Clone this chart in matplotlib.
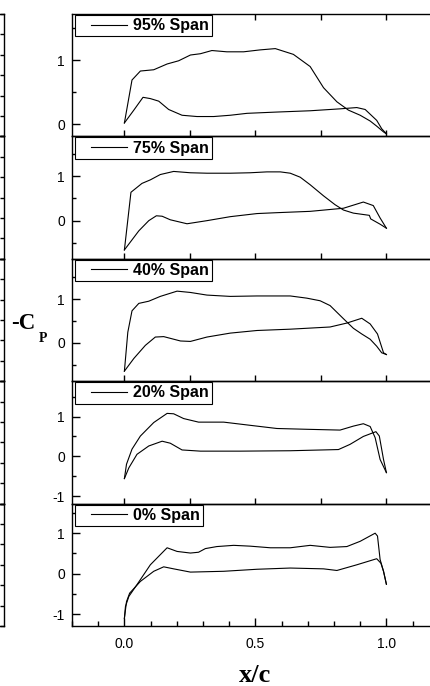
import numpy as np
import matplotlib
matplotlib.use("Agg")
import matplotlib.pyplot as plt
from matplotlib.ticker import MultipleLocator, FormatStrFormatter, FixedLocator
from matplotlib.legend_handler import HandlerBase
from matplotlib.lines import Line2D

plt.rcParams['font.family'] = ['Liberation Sans', 'DejaVu Sans']
plt.rcParams['axes.unicode_minus'] = False

# ---------------- data (x/c, -Cp) ----------------
labels = ["95% Span", "75% Span", "40% Span", "20% Span", "0% Span"]

x95_up = [0, 0.029, 0.061, 0.112, 0.163, 0.207, 0.252, 0.29, 0.334, 0.391, 0.455, 0.518, 0.576, 0.645, 0.709, 0.76, 0.811, 0.855, 0.9, 0.938, 0.963, 0.989, 1.0]
cp95_up = [0.02, 0.69, 0.83, 0.85, 0.94, 0.99, 1.08, 1.10, 1.15, 1.13, 1.13, 1.16, 1.18, 1.09, 0.90, 0.57, 0.35, 0.22, 0.14, 0.05, -0.03, -0.12, -0.15]
x95_lo = [0, 0.036, 0.071, 0.099, 0.131, 0.169, 0.22, 0.277, 0.341, 0.404, 0.468, 0.582, 0.709, 0.823, 0.887, 0.919, 0.963, 0.982, 1.0]
cp95_lo = [0.02, 0.22, 0.42, 0.40, 0.36, 0.23, 0.14, 0.12, 0.12, 0.14, 0.17, 0.19, 0.21, 0.24, 0.26, 0.23, 0.06, -0.07, -0.15]

x75_up = [0, 0.025, 0.067, 0.099, 0.137, 0.188, 0.252, 0.315, 0.404, 0.48, 0.544, 0.595, 0.633, 0.671, 0.709, 0.76, 0.804, 0.836, 0.874, 0.935, 0.94, 0.976, 1.0]
cp75_up = [-0.66, 0.64, 0.84, 0.92, 1.04, 1.11, 1.08, 1.07, 1.07, 1.08, 1.10, 1.10, 1.07, 0.98, 0.81, 0.56, 0.36, 0.24, 0.17, 0.12, 0.04, -0.08, -0.17]
x75_lo = [0, 0.055, 0.093, 0.122, 0.144, 0.175, 0.239, 0.315, 0.404, 0.506, 0.582, 0.709, 0.836, 0.912, 0.95, 0.976, 1.0]
cp75_lo = [-0.66, -0.23, 0.0, 0.11, 0.10, 0.02, -0.07, 0.0, 0.09, 0.16, 0.18, 0.21, 0.28, 0.42, 0.34, 0.06, -0.17]

x40_up = [0, 0.013, 0.029, 0.055, 0.093, 0.137, 0.201, 0.252, 0.315, 0.404, 0.506, 0.633, 0.696, 0.747, 0.785, 0.836, 0.874, 0.906, 0.938, 0.963, 0.982, 1.0]
cp40_up = [-0.65, 0.24, 0.73, 0.90, 0.95, 1.06, 1.18, 1.15, 1.09, 1.06, 1.07, 1.07, 1.02, 0.96, 0.85, 0.55, 0.33, 0.20, 0.08, -0.08, -0.23, -0.27]
x40_lo = [0, 0.036, 0.08, 0.118, 0.15, 0.214, 0.252, 0.315, 0.404, 0.506, 0.633, 0.785, 0.849, 0.906, 0.938, 0.966, 0.989, 1.0]
cp40_lo = [-0.65, -0.36, -0.06, 0.13, 0.14, 0.04, 0.03, 0.13, 0.22, 0.28, 0.31, 0.36, 0.45, 0.56, 0.43, 0.20, -0.23, -0.27]

x20_up = [0, 0.008, 0.029, 0.061, 0.112, 0.163, 0.188, 0.226, 0.283, 0.379, 0.48, 0.582, 0.696, 0.823, 0.874, 0.912, 0.938, 0.957, 0.976, 1.0]
cp20_up = [-0.56, -0.20, 0.18, 0.51, 0.85, 1.08, 1.07, 0.95, 0.86, 0.86, 0.78, 0.70, 0.68, 0.66, 0.76, 0.82, 0.75, 0.47, -0.08, -0.41]
x20_lo = [0, 0.017, 0.048, 0.093, 0.144, 0.175, 0.22, 0.29, 0.442, 0.633, 0.817, 0.861, 0.912, 0.96, 0.973, 0.989, 1.0]
cp20_lo = [-0.56, -0.29, 0.05, 0.26, 0.38, 0.33, 0.16, 0.13, 0.13, 0.14, 0.17, 0.30, 0.50, 0.62, 0.51, -0.08, -0.41]

x0_up = [0, 0.004, 0.017, 0.048, 0.099, 0.163, 0.201, 0.252, 0.283, 0.309, 0.353, 0.417, 0.48, 0.557, 0.633, 0.709, 0.785, 0.849, 0.9, 0.957, 0.966, 0.976, 0.989, 1.0]
cp0_up = [-1.10, -0.81, -0.56, -0.27, 0.22, 0.64, 0.55, 0.51, 0.53, 0.62, 0.67, 0.70, 0.68, 0.64, 0.64, 0.70, 0.65, 0.67, 0.80, 1.00, 0.93, 0.35, 0.06, -0.26]
x0_lo = [0, 0.008, 0.02, 0.061, 0.112, 0.15, 0.188, 0.252, 0.379, 0.506, 0.633, 0.76, 0.811, 0.887, 0.963, 0.979, 0.989, 1.0]
cp0_lo = [-1.10, -0.69, -0.48, -0.19, 0.06, 0.17, 0.12, 0.04, 0.06, 0.11, 0.14, 0.12, 0.08, 0.22, 0.37, 0.26, 0.06, -0.26]

curves = [
    (x95_up, cp95_up, x95_lo, cp95_lo),
    (x75_up, cp75_up, x75_lo, cp75_lo),
    (x40_up, cp40_up, x40_lo, cp40_lo),
    (x20_up, cp20_up, x20_lo, cp20_lo),
    (x0_up, cp0_up, x0_lo, cp0_lo),
]
ylims = [(-0.19, 1.72), (-0.86, 1.90), (-0.88, 1.92), (-1.19, 1.89), (-1.29, 1.73)]
xtick_labels = ["0.0", "0.5", "1.0"]

# ---------------- layout ----------------
W, H = 430, 686
fig = plt.figure(figsize=(W / 100, H / 100), dpi=100)

left_px, right_px = 72, 438.8
top_px, panel_h = 14, 122.4


class ShortLine(HandlerBase):
    def create_artists(self, legend, orig_handle, xdescent, ydescent,
                       width, height, fontsize, trans):
        y = height / 2 - ydescent
        ln = Line2D([width * 0.235 - xdescent, width * 0.897 - xdescent], [y, y],
                    color='black', lw=0.8)
        ln.set_transform(trans)
        return [ln]


axes = []
for i in range(5):
    t = top_px + i * panel_h
    b = t + panel_h
    ax = fig.add_axes([left_px / W, (H - b) / H, (right_px - left_px) / W, panel_h / H])
    axes.append(ax)
    xu, yu, xl, yl = curves[i]
    h, = ax.plot(xu, yu, color='black', lw=0.8)
    ax.plot(xl, yl, color='black', lw=0.8)
    ax.set_xlim(-0.2, 1.2)
    ax.set_ylim(*ylims[i])
    for s in ax.spines.values():
        s.set_linewidth(1.0)
    ax.yaxis.set_major_locator(MultipleLocator(1))
    ax.yaxis.set_minor_locator(MultipleLocator(0.5))
    ax.yaxis.set_major_formatter(FormatStrFormatter('%d'))
    ax.tick_params(axis='y', which='major', direction='in', length=6, width=1.0,
                   labelsize=10, pad=5, left=True, right=False)
    ax.tick_params(axis='y', which='minor', direction='in', length=3, width=1.0,
                   left=True, right=False)
    if i < 4:
        ax.xaxis.set_major_locator(MultipleLocator(0.25))
        ax.tick_params(axis='x', which='major', direction='in', length=4.5, width=1.0,
                       bottom=True, top=(i == 0), labelbottom=False)
    else:
        ax.xaxis.set_major_locator(FixedLocator([0, 0.5, 1.0]))
        ax.set_xticklabels(xtick_labels)
        ax.xaxis.set_minor_locator(MultipleLocator(0.1))
        ax.tick_params(axis='x', which='major', direction='in', length=6, width=1.0,
                       bottom=True, top=False, labelsize=10, pad=8)
        ax.tick_params(axis='x', which='minor', direction='in', length=3.5, width=1.0,
                       bottom=True, top=False)
    ax.set_facecolor('none')
    axw = right_px - left_px
    leg = ax.legend([h], [labels[i]], loc='upper left',
                    bbox_to_anchor=(3 / axw, 1 - 1 / panel_h), borderaxespad=0,
                    handler_map={Line2D: ShortLine()},
                    prop={'family': 'Liberation Sans', 'weight': 'bold', 'size': 11.5},
                    frameon=True, fancybox=False, shadow=False, framealpha=1,
                    edgecolor='black', borderpad=0.2, handlelength=3.4,
                    handletextpad=0.05)
    leg.get_frame().set_linewidth(0.8)

# neighbouring figure edge at far left (cut off)
for i in range(5):
    t = top_px + i * panel_h
    b = t + panel_h
    nb = fig.add_axes([-0.3 + 3.5 / W, (H - b) / H, 0.3, panel_h / H])
    nb.set_ylim(0, 6)
    nb.set_xlim(0, 1)
    nb.yaxis.set_major_locator(MultipleLocator(1))
    nb.set_xticks([])
    nb.tick_params(axis='y', direction='in', length=3, width=1.0, left=False,
                   right=True, labelleft=False, labelright=False)
    nb.spines['left'].set_visible(False)
    for s in nb.spines.values():
        s.set_linewidth(1.0)
    nb.set_facecolor('none')

# axis labels
fig.text(23 / W, (H - 324) / H, "-C", ha='center', va='center',
         family='Liberation Serif', weight='bold', fontsize=16.5)
fig.text(42.5 / W, (H - 339) / H, "P", ha='center', va='center',
         family='Liberation Serif', weight='bold', fontsize=10)
fig.text(255 / W, (H - 676) / H, "x/c", ha='center', va='center',
         family='Liberation Serif', weight='bold', fontsize=19)

fig.savefig("out.png", dpi=100)
